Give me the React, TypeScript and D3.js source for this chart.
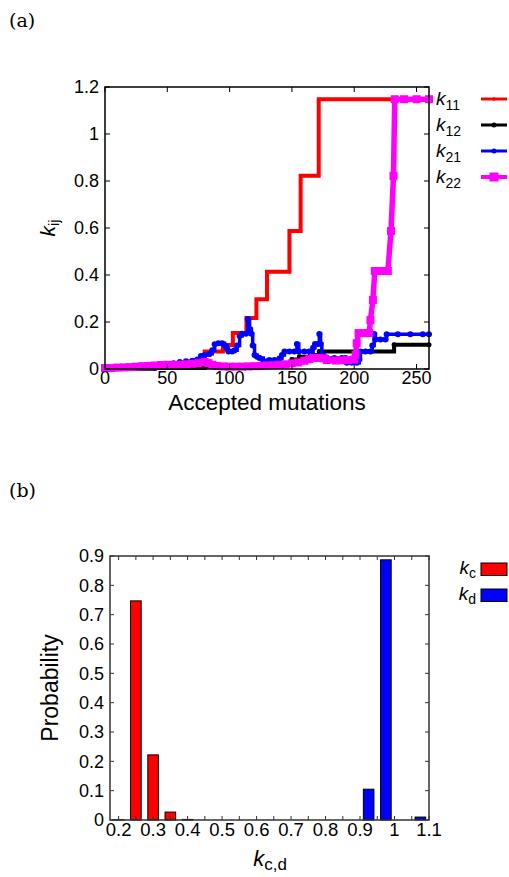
import React from 'react';
import * as d3 from 'd3';

const W = 509;
const H = 877;
const SANS = '"Liberation Sans", Arial, Helvetica, sans-serif';
const SERIF = '"DejaVu Serif", "Liberation Serif", serif';

// ---- panel (a): k_ij vs accepted mutations ----
const k11: [number, number][] = [
  [0, 0.005], [30, 0.008], [50, 0.012], [60, 0.015], [70.5, 0.038], [80, 0.074], [94.6, 0.102],
  [102.6, 0.153], [113.5, 0.217], [121.5, 0.297], [130, 0.414], [148, 0.587], [157, 0.822],
  [171.5, 1.148], [260, 1.148],
];
const k12: [number, number][] = [
  [0, 0.001], [40, 0.004], [80, 0.01], [110, 0.015], [130, 0.025], [150, 0.04], [156, 0.052],
  [165, 0.06], [172, 0.074], [232, 0.103], [260, 0.103],
];
const k21: [number, number][] = [
  [0, 0.002], [10, 0.003], [20, 0.005], [30, 0.007], [40, 0.01], [50, 0.015], [55, 0.025], [60, 0.03],
  [65, 0.033], [70, 0.035], [74, 0.04], [77, 0.055], [80, 0.06], [84, 0.065], [86, 0.08], [88, 0.105],
  [91, 0.11], [94, 0.11], [96, 0.1], [98, 0.085], [99, 0.074], [102, 0.074], [104, 0.08], [106, 0.1],
  [108, 0.14], [110, 0.15], [113, 0.15], [114.5, 0.213], [116, 0.17], [117.5, 0.15], [118.5, 0.1],
  [120, 0.06], [122, 0.052], [124, 0.047], [127, 0.031], [130, 0.033], [132, 0.038], [136, 0.038],
  [140, 0.045], [142, 0.06], [144, 0.074], [148, 0.074], [152, 0.074], [154, 0.106], [155.5, 0.074],
  [160, 0.074], [164, 0.074], [167, 0.09], [168.5, 0.106], [171, 0.106], [172, 0.149], [173, 0.106],
  [174, 0.06], [176, 0.052], [178, 0.047], [184, 0.047], [190, 0.047], [193, 0.047], [194, 0.027],
  [198, 0.027], [202, 0.027], [204, 0.04], [205, 0.074], [209, 0.074], [213, 0.074], [214.5, 0.1],
  [216, 0.149], [217, 0.126], [221, 0.126], [225, 0.126], [226, 0.148], [235, 0.148], [245, 0.148],
  [255, 0.148], [260, 0.148],
];
const k22: [number, number][] = [
  [0, 0.004], [5, 0.004], [10, 0.006], [15, 0.007], [20, 0.008], [25, 0.01], [30, 0.012], [35, 0.013],
  [40, 0.015], [45, 0.017], [50, 0.018], [55, 0.017], [60, 0.018], [65, 0.02], [70, 0.022], [75, 0.025],
  [80, 0.03], [83, 0.025], [86, 0.018], [90, 0.013], [95, 0.011], [100, 0.01], [105, 0.01], [110, 0.01],
  [115, 0.011], [120, 0.012], [125, 0.013], [130, 0.015], [135, 0.016], [140, 0.018], [145, 0.02],
  [150, 0.024], [155, 0.028], [160, 0.035], [164, 0.042], [167, 0.047], [172, 0.047], [176, 0.045],
  [178, 0.038], [185, 0.036], [190, 0.037], [195, 0.038], [200, 0.04], [201, 0.06], [202, 0.11],
  [203.5, 0.153], [208, 0.153], [212, 0.153], [213, 0.208], [215, 0.294], [216.5, 0.417], [222, 0.417],
  [227, 0.417], [229.5, 0.587], [231.5, 0.822], [232.5, 1.148], [240, 1.148], [250, 1.148], [260, 1.148],
];
const aXTicks = [0, 50, 100, 150, 200, 250];
const aYTicks = [0, 0.2, 0.4, 0.6, 0.8, 1, 1.2];

// ---- panel (b): histogram of k_c and k_d ----
const kcBins = [0.2, 0.25, 0.3, 0.35, 0.4];
const kcProb = [0.001, 0.747, 0.222, 0.027, 0.002];
const kdBins = [0.925, 0.975, 1.075];
const kdProb = [0.105, 0.887, 0.01];
const bXLabels = [0.2, 0.3, 0.4, 0.5, 0.6, 0.7, 0.8, 0.9, 1, 1.1];
const bXTicks = d3.range(0, 19).map(i => +(0.2 + i * 0.05).toFixed(2));
const bYTicks = [0, 0.1, 0.2, 0.3, 0.4, 0.5, 0.6, 0.7, 0.8, 0.9];

const fmt = (v: number) => String(+v.toFixed(2));

function PanelA() {
  const x = d3.scaleLinear().domain([0, 260]).range([105, 429]);
  const y = d3.scaleLinear().domain([0, 1.2]).range([369, 87]);
  const step = d3.line<[number, number]>().x(d => x(d[0])).y(d => y(d[1])).curve(d3.curveStepAfter);
  const lin = d3.line<[number, number]>().x(d => x(d[0])).y(d => y(d[1]));
  const [x0, x1] = x.range();
  const [y0, y1] = y.range();
  const legend = [
    { sub: '11', color: '#ff0000', marker: 'dot', r: 1.8, sw: 3 },
    { sub: '12', color: '#000000', marker: 'dot', r: 2.5, sw: 3 },
    { sub: '21', color: '#0000ff', marker: 'dot', r: 2.5, sw: 3 },
    { sub: '22', color: '#ff00ff', marker: 'sq', r: 4.5, sw: 4 },
  ];
  return (
    <g>
      <text x={9} y={27} fontFamily={SERIF} fontSize={19}>(a)</text>
      {/* data */}
      <path d={step(k11) ?? ''} fill="none" stroke="#ff0000" strokeWidth={4} />
      <path d={step(k12) ?? ''} fill="none" stroke="#000000" strokeWidth={4} />
      {k12.map((d, i) => <circle key={'b' + i} cx={x(d[0])} cy={y(d[1])} r={2.5} fill="#000" />)}
      <path d={step(k21) ?? ''} fill="none" stroke="#0000ff" strokeWidth={3.5} />
      {k21.map((d, i) => <circle key={'u' + i} cx={x(d[0])} cy={y(d[1])} r={3} fill="#0000ff" />)}
      <path d={lin(k22) ?? ''} fill="none" stroke="#ff00ff" strokeWidth={5.5} />
      {k22.map((d, i) => (
        <rect key={'m' + i} x={x(d[0]) - 4} y={y(d[1]) - 4} width={8} height={8} fill="#ff00ff" />
      ))}
      {/* frame */}
      <rect x={x0} y={y1} width={x1 - x0} height={y0 - y1} fill="none" stroke="#000" strokeWidth={1.5} />
      {aXTicks.map(t => (
        <g key={'xt' + t}>
          <line x1={x(t)} x2={x(t)} y1={y0} y2={y0 - 5} stroke="#000" />
          <line x1={x(t)} x2={x(t)} y1={y1} y2={y1 + 5} stroke="#000" />
          <text x={x(t)} y={y0 + 15} textAnchor="middle" fontFamily={SANS} fontSize={18}>{t}</text>
        </g>
      ))}
      {aYTicks.map(t => (
        <g key={'yt' + t}>
          <line x1={x0} x2={x0 + 5} y1={y(t)} y2={y(t)} stroke="#000" />
          <line x1={x1} x2={x1 - 5} y1={y(t)} y2={y(t)} stroke="#000" />
          <text x={x0 - 6} y={y(t)} dy="0.36em" textAnchor="end" fontFamily={SANS} fontSize={18}>{fmt(t)}</text>
        </g>
      ))}
      <text x={(x0 + x1) / 2} y={410} textAnchor="middle" fontFamily={SANS} fontSize={22.5}>Accepted mutations</text>
      <text transform="translate(55,228) rotate(-90)" textAnchor="middle" fontFamily={SANS}>
        <tspan fontStyle="italic" fontSize={21}>k</tspan>
        <tspan fontSize={15} dy={4}>ij</tspan>
      </text>
      {/* legend */}
      {legend.map((l, i) => {
        const ly = 99 + i * 26;
        return (
          <g key={'lg' + i}>
            <text x={436} y={ly + 6} fontFamily={SANS}>
              <tspan fontStyle="italic" fontSize={19}>k</tspan>
              <tspan fontSize={14} dy={5}>{l.sub}</tspan>
            </text>
            <line x1={481} x2={507} y1={ly} y2={ly} stroke={l.color} strokeWidth={l.sw} />
            {l.marker === 'dot'
              ? <circle cx={494} cy={ly} r={l.r} fill={l.color} />
              : <rect x={494 - l.r} y={ly - l.r} width={2 * l.r} height={2 * l.r} fill={l.color} />}
          </g>
        );
      })}
    </g>
  );
}

function PanelB() {
  const x = d3.scaleLinear().domain([0.175, 1.1]).range([110, 429]);
  const y = d3.scaleLinear().domain([0, 0.9]).range([820, 556]);
  const [x0, x1] = x.range();
  const [y0, y1] = y.range();
  const bw = 10.6;
  const frame = '#333';
  return (
    <g>
      <text x={9} y={497} fontFamily={SERIF} fontSize={19}>(b)</text>
      {kcBins.map((b, i) => (
        <rect key={'c' + i} x={x(b) - bw / 2} y={y(kcProb[i])} width={bw} height={y0 - y(kcProb[i])}
          fill="#ff0000" stroke="#000" strokeWidth={1} />
      ))}
      {kdBins.map((b, i) => (
        <rect key={'d' + i} x={x(b) - bw / 2} y={y(kdProb[i])} width={bw} height={y0 - y(kdProb[i])}
          fill="#0000ff" stroke="#000" strokeWidth={1} />
      ))}
      <rect x={x0} y={y1} width={x1 - x0} height={y0 - y1} fill="none" stroke={frame} strokeWidth={1.5} />
      {bXTicks.map(t => (
        <g key={'bxt' + t}>
          <line x1={x(t)} x2={x(t)} y1={y0} y2={y0 - 4} stroke={frame} />
          <line x1={x(t)} x2={x(t)} y1={y1} y2={y1 + 4} stroke={frame} />
        </g>
      ))}
      {bXLabels.map(t => (
        <text key={'bxl' + t} x={x(t)} y={836} textAnchor="middle" fontFamily={SANS} fontSize={18.5}>{fmt(t)}</text>
      ))}
      {bYTicks.map(t => (
        <g key={'byt' + t}>
          <line x1={x0} x2={x0 + 4} y1={y(t)} y2={y(t)} stroke={frame} />
          <line x1={x1} x2={x1 - 4} y1={y(t)} y2={y(t)} stroke={frame} />
          <text x={x0 - 6} y={y(t)} dy="0.36em" textAnchor="end" fontFamily={SANS} fontSize={18}>{fmt(t)}</text>
        </g>
      ))}
      <text transform="translate(58,688) rotate(-90)" textAnchor="middle" fontFamily={SANS} fontSize={23}>Probability</text>
      <text x={270} y={866} textAnchor="middle" fontFamily={SANS}>
        <tspan fontStyle="italic" fontSize={22}>k</tspan>
        <tspan fontSize={17} dy={4}>c,d</tspan>
      </text>
      {/* legend */}
      {[{ s: 'c', c: '#ff0000' }, { s: 'd', c: '#0000ff' }].map((l, i) => {
        const ly = 569 + i * 26;
        return (
          <g key={'bl' + i}>
            <text x={476} y={ly + 5} textAnchor="end" fontFamily={SANS}>
              <tspan fontStyle="italic" fontSize={19}>k</tspan>
              <tspan fontSize={14} dy={4}>{l.s}</tspan>
            </text>
            <rect x={481} y={ly - 6} width={26} height={12.5} fill={l.c} stroke="#000" strokeWidth={1} />
          </g>
        );
      })}
    </g>
  );
}

export default function App() {
  return (
    <svg width={W} height={H} viewBox={`0 0 ${W} ${H}`}
      style={{ position: 'absolute', left: 0, top: 0, background: '#fff' }}>
      <rect width={W} height={H} fill="#fff" />
      <PanelA />
      <PanelB />
    </svg>
  );
}
